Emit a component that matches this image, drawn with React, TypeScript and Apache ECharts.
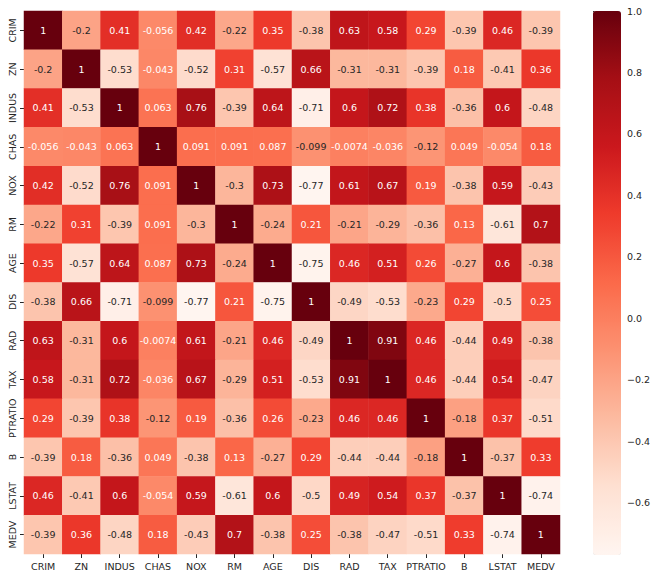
import React, { useEffect, useRef } from "react";
import * as echarts from "echarts";

const labels = ["CRIM", "ZN", "INDUS", "CHAS", "NOX", "RM", "AGE", "DIS", "RAD", "TAX", "PTRATIO", "B", "LSTAT", "MEDV"];

const rowCRIM = [1, -0.2, 0.41, -0.056, 0.42, -0.22, 0.35, -0.38, 0.63, 0.58, 0.29, -0.39, 0.46, -0.39];
const rowZN = [-0.2, 1, -0.53, -0.043, -0.52, 0.31, -0.57, 0.66, -0.31, -0.31, -0.39, 0.18, -0.41, 0.36];
const rowINDUS = [0.41, -0.53, 1, 0.063, 0.76, -0.39, 0.64, -0.71, 0.6, 0.72, 0.38, -0.36, 0.6, -0.48];
const rowCHAS = [-0.056, -0.043, 0.063, 1, 0.091, 0.091, 0.087, -0.099, -0.0074, -0.036, -0.12, 0.049, -0.054, 0.18];
const rowNOX = [0.42, -0.52, 0.76, 0.091, 1, -0.3, 0.73, -0.77, 0.61, 0.67, 0.19, -0.38, 0.59, -0.43];
const rowRM = [-0.22, 0.31, -0.39, 0.091, -0.3, 1, -0.24, 0.21, -0.21, -0.29, -0.36, 0.13, -0.61, 0.7];
const rowAGE = [0.35, -0.57, 0.64, 0.087, 0.73, -0.24, 1, -0.75, 0.46, 0.51, 0.26, -0.27, 0.6, -0.38];
const rowDIS = [-0.38, 0.66, -0.71, -0.099, -0.77, 0.21, -0.75, 1, -0.49, -0.53, -0.23, 0.29, -0.5, 0.25];
const rowRAD = [0.63, -0.31, 0.6, -0.0074, 0.61, -0.21, 0.46, -0.49, 1, 0.91, 0.46, -0.44, 0.49, -0.38];
const rowTAX = [0.58, -0.31, 0.72, -0.036, 0.67, -0.29, 0.51, -0.53, 0.91, 1, 0.46, -0.44, 0.54, -0.47];
const rowPTRATIO = [0.29, -0.39, 0.38, -0.12, 0.19, -0.36, 0.26, -0.23, 0.46, 0.46, 1, -0.18, 0.37, -0.51];
const rowB = [-0.39, 0.18, -0.36, 0.049, -0.38, 0.13, -0.27, 0.29, -0.44, -0.44, -0.18, 1, -0.37, 0.33];
const rowLSTAT = [0.46, -0.41, 0.6, -0.054, 0.59, -0.61, 0.6, -0.5, 0.49, 0.54, 0.37, -0.37, 1, -0.74];
const rowMEDV = [-0.39, 0.36, -0.48, 0.18, -0.43, 0.7, -0.38, 0.25, -0.38, -0.47, -0.51, 0.33, -0.74, 1];

const matrix = [rowCRIM, rowZN, rowINDUS, rowCHAS, rowNOX, rowRM, rowAGE, rowDIS, rowRAD, rowTAX, rowPTRATIO, rowB, rowLSTAT, rowMEDV];

const colorbarTicks = [-0.6, -0.4, -0.2, 0, 0.2, 0.4, 0.6, 0.8, 1.0];

const REDS = ["#fff5f0", "#fee0d2", "#fcbba1", "#fc9272", "#fb6a4a", "#ef3b2c", "#cb181d", "#a50f15", "#67000d"];
const VMIN = -0.7695;
const VMAX = 1;

function hexToRgb(h: string): number[] {
  const n = parseInt(h.slice(1), 16);
  return [(n >> 16) & 255, (n >> 8) & 255, n & 255];
}

function cmap(v: number): number[] {
  let t = (v - VMIN) / (VMAX - VMIN);
  t = Math.max(0, Math.min(1, t));
  const pos = t * (REDS.length - 1);
  const i = Math.min(Math.floor(pos), REDS.length - 2);
  const f = pos - i;
  const a = hexToRgb(REDS[i]);
  const b = hexToRgb(REDS[i + 1]);
  return [0, 1, 2].map((k) => a[k] + (b[k] - a[k]) * f);
}

function luminance(rgb: number[]): number {
  const lin = rgb.map((c) => {
    const s = c / 255;
    return s <= 0.03928 ? s / 12.92 : Math.pow((s + 0.055) / 1.055, 2.4);
  });
  return 0.2126 * lin[0] + 0.7152 * lin[1] + 0.0722 * lin[2];
}

function fmt(v: number): string {
  return String(Number(v.toPrecision(2)));
}

const FONT = "DejaVu Sans";
const FS = 9.5;

export default function App() {
  const ref = useRef<HTMLDivElement>(null);

  useEffect(() => {
    if (!ref.current) return;
    const chart = echarts.init(ref.current, undefined, { renderer: "svg" });

    const data: any[] = [];
    matrix.forEach((row, i) => {
      row.forEach((v, j) => {
        const lum = luminance(cmap(v));
        data.push({
          value: [j, i, v],
          label: { color: lum > 0.408 ? "#262626" : "#ffffff" },
        });
      });
    });

    const option: any = {
      animation: false,
      backgroundColor: "#ffffff",
      textStyle: { fontFamily: FONT },
      grid: [
        { left: 24, top: 11, width: 536, height: 543 },
        { left: 593, top: 11, width: 28, height: 544 },
      ],
      xAxis: [
        {
          type: "category",
          gridIndex: 0,
          data: labels,
          position: "bottom",
          axisLine: { show: false },
          axisTick: { show: true, alignWithLabel: true, length: 4, lineStyle: { color: "#262626" } },
          axisLabel: { fontSize: FS, color: "#262626", fontFamily: FONT, margin: 7, interval: 0 },
          splitLine: { show: false },
        },
        {
          type: "value",
          gridIndex: 1,
          show: false,
          min: 0,
          max: 1,
        },
      ],
      yAxis: [
        {
          type: "category",
          gridIndex: 0,
          data: labels,
          inverse: true,
          axisLine: { show: false },
          axisTick: { show: true, alignWithLabel: true, length: 4, lineStyle: { color: "#262626" } },
          axisLabel: { fontSize: FS, color: "#262626", fontFamily: FONT, rotate: 90, margin: 7, interval: 0 },
          splitLine: { show: false },
        },
        {
          type: "value",
          gridIndex: 1,
          position: "right",
          min: VMIN,
          max: VMAX,
          axisLine: { show: false },
          splitLine: { show: false },
          axisTick: {
            show: true,
            length: 4,
            customValues: colorbarTicks,
            lineStyle: { color: "#262626" },
          },
          axisLabel: {
            show: true,
            customValues: colorbarTicks,
            fontSize: FS,
            color: "#262626",
            fontFamily: FONT,
            margin: 6,
            formatter: (v: number) => v.toFixed(1).replace("-", "\u2212"),
          },
        },
      ],
      visualMap: {
        type: "continuous",
        seriesIndex: 0,
        min: VMIN,
        max: VMAX,
        calculable: false,
        realtime: false,
        show: true,
        left: 593,
        top: 11,
        itemWidth: 28,
        itemHeight: 544,
        padding: 0,
        text: ["", ""],
        showLabel: false,
        hoverLink: false,
        inRange: { color: REDS },
      },
      series: [
        {
          type: "heatmap",
          xAxisIndex: 0,
          yAxisIndex: 0,
          data,
          label: {
            show: true,
            fontSize: FS,
            fontFamily: FONT,
            formatter: (p: any) => fmt(p.value[2]),
          },
          itemStyle: { borderWidth: 0 },
          emphasis: { disabled: true },
        },
        {
          type: "scatter",
          xAxisIndex: 1,
          yAxisIndex: 1,
          data: [],
          silent: true,
        },
      ],
    };

    chart.setOption(option);
    return () => chart.dispose();
  }, []);

  return (
    <div
      ref={ref}
      style={{ position: "fixed", left: 0, top: 0, width: 658, height: 579, background: "#fff" }}
    />
  );
}
